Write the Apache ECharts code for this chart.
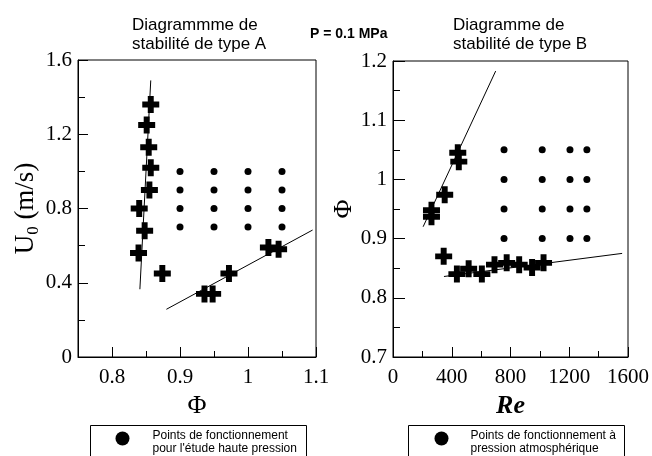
<!DOCTYPE html>
<html>
<head>
<meta charset="utf-8">
<script src="https://cdn.jsdelivr.net/npm/echarts@6/dist/echarts.min.js"></script>
<style>
html,body{margin:0;padding:0;background:#fff;}
#c{width:652px;height:456px;}
</style>
</head>
<body>
<div id="c"></div>
<script>
// ---- Type A diagram (left): U0 vs Phi ----
const crossA_phi = [0.857, 0.851, 0.854, 0.857, 0.855, 0.840, 0.848, 0.839, 0.874, 0.936, 0.948, 0.972, 1.030, 1.045];
const crossA_u   = [1.36, 1.25, 1.13, 1.02, 0.90, 0.80, 0.68, 0.56, 0.45, 0.34, 0.34, 0.45, 0.59, 0.58];
const dotA_phi = [0.9, 0.95, 1.0, 1.05];
const dotA_u   = [1.0, 0.9, 0.8, 0.7];
const blowA_phi = [0.841, 0.857];
const blowA_u   = [0.365, 1.49];
const flashA_phi = [0.880, 1.095];
const flashA_u   = [0.257, 0.684];
const annA_names = ['Blowoff', 'Flashback'];
const annA_phi = [0.799, 1.027];
const annA_u   = [1.088, 0.286];
const ticksA_x_major = [0.8, 0.9, 1, 1.1];
const ticksA_x_minor = [0.85, 0.95, 1.05];

// ---- Type B diagram (right): Phi vs Re ----
const crossB_re  = [441, 448, 352, 262, 262, 345, 435, 515, 605, 691, 774, 859, 947, 1025];
const crossB_phi = [1.045, 1.030, 0.974, 0.948, 0.937, 0.870, 0.840, 0.849, 0.840, 0.856, 0.859, 0.856, 0.851, 0.859];
const dotB_re  = [756, 1016, 1205, 1320];
const dotB_phi = [1.05, 1.0, 0.95, 0.9];
const flashB_re  = [205, 699];
const flashB_phi = [0.920, 1.183];
const blowB_re  = [347, 1560];
const blowB_phi = [0.836, 0.875];
const annB_names = ['Flashback', 'Blowoff'];
const annB_re  = [300, 1108];
const annB_phi = [1.131, 0.787];

const legendA = "Points de fonctionnement\npour l'étude haute pression";
const legendB = "Points de fonctionnement à\npression atmosphérique";

function pts(xs, ys) {
  return xs.map((x, i) => [x, ys[i]]);
}
function ann(names, xs, ys) {
  return names.map((n, i) => ({ name: n, value: [xs[i], ys[i]] }));
}

const SERIF = "'Liberation Serif','Times New Roman',serif";
const SANS = "'Liberation Sans',Arial,sans-serif";
const CROSS = 'path://M6.5,0h7v6.5h6.5v7h-6.5v6.5h-7v-6.5h-6.5v-7h6.5z';

const axisLine = { show: true, lineStyle: { color: '#000', width: 1 } };
const labelStyle = { color: '#000', fontFamily: SERIF, fontSize: 21 };

const chart = echarts.init(document.getElementById('c'), null, { renderer: 'canvas' });

const option = {
  animation: false,
  backgroundColor: '#fff',
  title: [
    { text: 'Diagrammme de\nstabilité de type A', left: 127, top: 11,
      textStyle: { fontFamily: SANS, fontSize: 17, fontWeight: 'normal', lineHeight: 19, color: '#000' } },
    { text: 'Diagramme de\nstabilité de type B', left: 448, top: 11,
      textStyle: { fontFamily: SANS, fontSize: 17, fontWeight: 'normal', lineHeight: 19, color: '#000' } },
    { text: 'P = 0.1 MPa', left: 305, top: 21,
      textStyle: { fontFamily: SANS, fontSize: 14, fontWeight: 'bold', lineHeight: 16, color: '#000' } }
  ],
  grid: [
    { left: 78, top: 60, width: 238, height: 297, show: true, borderColor: '#000', borderWidth: 1 },
    { left: 393, top: 61, width: 238, height: 296, show: true, borderColor: '#000', borderWidth: 1 }
  ],
  xAxis: [
    { gridIndex: 0, type: 'value', min: 0.75, max: 1.1, position: 'bottom',
      axisLine: axisLine, splitLine: { show: false },
      axisTick: { show: true, inside: true, length: 10, customValues: ticksA_x_major, lineStyle: { color: '#000' } },
      axisLabel: { show: true, customValues: ticksA_x_major, margin: 10, ...labelStyle },
      name: 'Φ', nameLocation: 'middle', nameGap: 33,
      nameTextStyle: { fontFamily: SERIF, fontSize: 26, color: '#000', lineHeight: 26 } },
    { gridIndex: 0, type: 'value', min: 0.75, max: 1.1, position: 'bottom',
      axisLine: { show: false }, splitLine: { show: false },
      axisTick: { show: true, inside: true, length: 6, customValues: ticksA_x_minor, lineStyle: { color: '#000' } },
      axisLabel: { show: false } },
    { gridIndex: 1, type: 'value', min: 0, max: 1600, interval: 400, position: 'bottom',
      axisLine: axisLine, splitLine: { show: false },
      axisTick: { show: true, inside: true, length: 10, lineStyle: { color: '#000' } },
      minorTick: { show: true, splitNumber: 2, length: 6, lineStyle: { color: '#000' } },
      axisLabel: { show: true, margin: 10, formatter: v => String(v), ...labelStyle },
      name: 'Re', nameLocation: 'middle', nameGap: 33,
      nameTextStyle: { fontFamily: SERIF, fontSize: 26, fontWeight: 'bold', fontStyle: 'italic', color: '#000', lineHeight: 26 } }
  ],
  yAxis: [
    { gridIndex: 0, type: 'value', min: 0, max: 1.6, interval: 0.4,
      axisLine: axisLine, splitLine: { show: false },
      axisTick: { show: true, inside: true, length: 10, lineStyle: { color: '#000' } },
      minorTick: { show: true, splitNumber: 2, length: 7, lineStyle: { color: '#000' } },
      axisLabel: { show: true, margin: 6, ...labelStyle },
      name: '{a|U}{b|0}{a| (m/s)}', nameLocation: 'middle', nameGap: 36, nameRotate: 90,
      nameTextStyle: { color: '#000',
        rich: {
          a: { fontFamily: SERIF, fontSize: 27, lineHeight: 32, color: '#000' },
          b: { fontFamily: SERIF, fontSize: 17, lineHeight: 16, verticalAlign: 'bottom', color: '#000' }
        } } },
    { gridIndex: 1, type: 'value', min: 0.7, max: 1.2, interval: 0.1,
      axisLine: axisLine, splitLine: { show: false },
      axisTick: { show: true, inside: true, length: 12, lineStyle: { color: '#000' } },
      minorTick: { show: true, splitNumber: 2, length: 7, lineStyle: { color: '#000' } },
      axisLabel: { show: true, margin: 6, ...labelStyle },
      name: 'Φ', nameLocation: 'middle', nameGap: 29, nameRotate: 90,
      nameTextStyle: { fontFamily: SERIF, fontSize: 26, color: '#000', lineHeight: 26 } }
  ],
  series: [
    // Type A
    { name: 'Blowoff A', type: 'line', xAxisIndex: 0, yAxisIndex: 0, data: pts(blowA_phi, blowA_u),
      symbol: 'none', silent: true, lineStyle: { color: '#000', width: 1 }, z: 1 },
    { name: 'Flashback A', type: 'line', xAxisIndex: 0, yAxisIndex: 0, data: pts(flashA_phi, flashA_u),
      symbol: 'none', silent: true, lineStyle: { color: '#000', width: 1 }, z: 1 },
    { name: 'Limites A', type: 'scatter', xAxisIndex: 0, yAxisIndex: 0, data: pts(crossA_phi, crossA_u),
      symbol: CROSS, symbolSize: 17, itemStyle: { color: '#000', opacity: 1 }, z: 3 },
    { name: legendA, type: 'scatter', xAxisIndex: 0, yAxisIndex: 0,
      data: dotA_phi.flatMap(p => dotA_u.map(u => [p, u])),
      symbol: 'circle', symbolSize: 7, itemStyle: { color: '#000', opacity: 1 }, z: 3 },
    { name: 'Annotations A', type: 'scatter', xAxisIndex: 0, yAxisIndex: 0, data: ann(annA_names, annA_phi, annA_u),
      symbolSize: 1, itemStyle: { opacity: 0 }, silent: true,
      label: { show: true, position: 'inside', formatter: '{b}', color: '#000', fontFamily: SANS, fontSize: 13 } },
    // Type B
    { name: 'Flashback B', type: 'line', xAxisIndex: 2, yAxisIndex: 1, data: pts(flashB_re, flashB_phi),
      symbol: 'none', silent: true, lineStyle: { color: '#000', width: 1 }, z: 1 },
    { name: 'Blowoff B', type: 'line', xAxisIndex: 2, yAxisIndex: 1, data: pts(blowB_re, blowB_phi),
      symbol: 'none', silent: true, lineStyle: { color: '#000', width: 1 }, z: 1 },
    { name: 'Limites B', type: 'scatter', xAxisIndex: 2, yAxisIndex: 1, data: pts(crossB_re, crossB_phi),
      symbol: CROSS, symbolSize: 17, itemStyle: { color: '#000', opacity: 1 }, z: 3 },
    { name: legendB, type: 'scatter', xAxisIndex: 2, yAxisIndex: 1,
      data: dotB_re.flatMap(r => dotB_phi.map(p => [r, p])),
      symbol: 'circle', symbolSize: 7, itemStyle: { color: '#000', opacity: 1 }, z: 3 },
    { name: 'Annotations B', type: 'scatter', xAxisIndex: 2, yAxisIndex: 1, data: ann(annB_names, annB_re, annB_phi),
      symbolSize: 1, itemStyle: { opacity: 0 }, silent: true,
      label: { show: true, position: 'inside', formatter: '{b}', color: '#000', fontFamily: SANS, fontSize: 13 } }
  ],
  graphic: [
    { type: 'group', left: 90, top: 425, children: [
      { type: 'rect', shape: { x: 0, y: 0, width: 216, height: 40 }, style: { fill: '#fff', stroke: '#000', lineWidth: 1 } },
      { type: 'circle', shape: { cx: 32, cy: 13, r: 7 }, style: { fill: '#000' } },
      { type: 'text', x: 62, y: 4, style: { text: legendA, fontFamily: SANS, fontSize: 12, lineHeight: 13, fill: '#000' } }
    ] },
    { type: 'group', left: 408, top: 425, children: [
      { type: 'rect', shape: { x: 0, y: 0, width: 216, height: 40 }, style: { fill: '#fff', stroke: '#000', lineWidth: 1 } },
      { type: 'circle', shape: { cx: 33, cy: 13, r: 7 }, style: { fill: '#000' } },
      { type: 'text', x: 62, y: 4, style: { text: legendB, fontFamily: SANS, fontSize: 12, lineHeight: 13, fill: '#000' } }
    ] }
  ]
};
chart.setOption(option);
</script>
</body>
</html>
